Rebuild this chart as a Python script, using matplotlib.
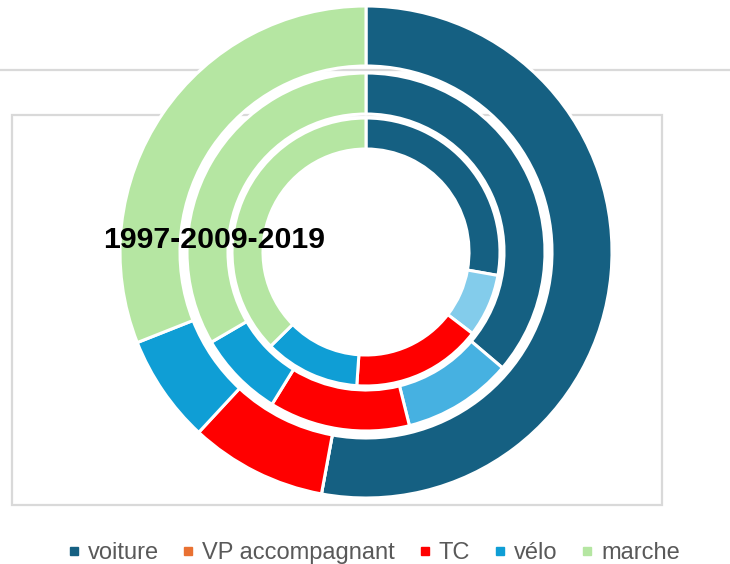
import matplotlib
matplotlib.use("Agg")
import matplotlib.pyplot as plt
from matplotlib.lines import Line2D
from matplotlib.patches import Rectangle

categories = ["voiture", "VP accompagnant", "TC", "vélo", "marche"]
share_1997 = [52.9, 0.0, 9.0, 7.1, 31.0]
share_2009 = [36.2, 9.9, 12.7, 7.8, 33.4]
share_2019 = [27.8, 7.6, 15.7, 11.5, 37.4]
center_label = "1997-2009-2019"

legend_colors = ["#156082", "#E97132", "#FF0000", "#0F9ED5", "#B5E6A2"]
# VP accompagnant is drawn in light blue shades on the rings
colors_1997 = legend_colors
colors_2009 = ["#156082", "#46B1E1", "#FF0000", "#0F9ED5", "#B5E6A2"]
colors_2019 = ["#156082", "#83CCEB", "#FF0000", "#0F9ED5", "#B5E6A2"]

W, H = 730, 564
fig = plt.figure(figsize=(W / 100, H / 100), dpi=100)
ax = fig.add_axes([0, 0, 1, 1])

cx, cy = 366, H - 252
rings = [
    (share_1997, colors_1997, 246, 60),
    (share_2009, colors_2009, 179, 41),
    (share_2019, colors_2019, 134, 31),
]
for values, cols, r, w in rings:
    ax.pie(values, colors=cols, radius=r, center=(cx, cy), startangle=90,
           counterclock=False, frame=True,
           wedgeprops=dict(width=w, edgecolor="white", linewidth=2.2))

# stray grey frame lines from the original sheet
ax.plot([0, W], [H - 70, H - 70], color="#d9d9d9", lw=1.6, zorder=0)
ax.add_patch(Rectangle((12, H - 505), 650, 390, fill=False,
                       edgecolor="#d9d9d9", lw=1.6, zorder=0))

ax.text(103, H - 248, center_label, fontsize=21.8, fontweight="bold",
        family="Liberation Sans", color="black", va="baseline", ha="left")

ax.set_xlim(0, W)
ax.set_ylim(0, H)
ax.set_aspect("auto")
ax.axis("off")

handles = [Line2D([], [], marker="s", linestyle="", markersize=6,
                  markerfacecolor=c, markeredgecolor=c) for c in legend_colors]
fig.legend(handles, categories, loc="center", bbox_to_anchor=(0.512, 1 - 553 / H),
           ncol=5, frameon=False, handlelength=0.5,
           handletextpad=0.35, columnspacing=1.0,
           prop=dict(family="Liberation Sans", size=17), labelcolor="#595959")

fig.savefig("out.png", dpi=100)
